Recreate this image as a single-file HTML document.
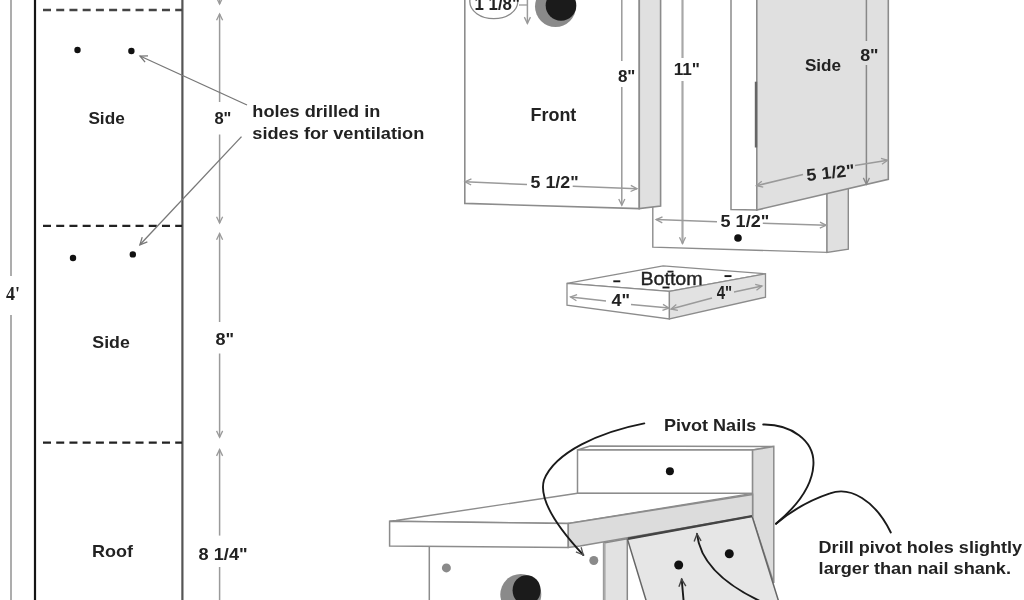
<!DOCTYPE html>
<html><head><meta charset="utf-8"><style>
html,body{margin:0;padding:0;background:#fff;}
svg{display:block;will-change:transform;}
</style></head><body>
<svg width="1024" height="600" viewBox="0 0 1024 600">
<rect width="1024" height="600" fill="#fff"/>
<line x1="11" y1="0" x2="11" y2="276" stroke="#999" stroke-width="1.6" />
<line x1="11" y1="315" x2="11" y2="600" stroke="#999" stroke-width="1.6" />
<text x="6" y="299.6" font-family="Liberation Serif" font-size="18" font-weight="bold" fill="#222" textLength="14" lengthAdjust="spacingAndGlyphs" >4'</text>
<line x1="35" y1="0" x2="35" y2="600" stroke="#151515" stroke-width="2.2" />
<line x1="182.4" y1="0" x2="182.4" y2="600" stroke="#555" stroke-width="2.2" />
<line x1="43" y1="10" x2="182" y2="10" stroke="#444" stroke-width="2.3" stroke-dasharray="8 5.22"/>
<line x1="43" y1="225.8" x2="182" y2="225.8" stroke="#222" stroke-width="2.3" stroke-dasharray="8 5.22"/>
<line x1="43" y1="442.6" x2="182" y2="442.6" stroke="#222" stroke-width="2.3" stroke-dasharray="8 5.22"/>
<circle cx="77.5" cy="50" r="3.2" fill="#111" />
<circle cx="131.4" cy="51" r="3.2" fill="#111" />
<circle cx="73" cy="258" r="3.2" fill="#111" />
<circle cx="132.8" cy="254.4" r="3.2" fill="#111" />
<text x="88.4" y="124.2" font-family="Liberation Sans" font-size="17" font-weight="bold" fill="#222" textLength="36.3" lengthAdjust="spacingAndGlyphs" >Side</text>
<text x="92.3" y="348.1" font-family="Liberation Sans" font-size="17" font-weight="bold" fill="#222" textLength="37.5" lengthAdjust="spacingAndGlyphs" >Side</text>
<text x="91.9" y="557" font-family="Liberation Sans" font-size="17" font-weight="bold" fill="#222" textLength="41" lengthAdjust="spacingAndGlyphs" >Roof</text>
<line x1="219.6" y1="0" x2="219.6" y2="4" stroke="#9a9a9a" stroke-width="1.5" />
<polyline points="216.5552412612214,-2.303129716468738 219.6,4 222.64475873877862,-2.303129716468738" stroke="#9a9a9a" stroke-width="1.3" fill="none" stroke-linejoin="miter" />
<line x1="219.6" y1="14" x2="219.6" y2="102" stroke="#9a9a9a" stroke-width="1.5" />
<polyline points="222.64475873877862,20.30312971646874 219.6,14 216.5552412612214,20.30312971646874" stroke="#9a9a9a" stroke-width="1.3" fill="none" stroke-linejoin="miter" />
<line x1="219.6" y1="134.5" x2="219.6" y2="223" stroke="#9a9a9a" stroke-width="1.5" />
<polyline points="216.5552412612214,216.69687028353127 219.6,223 222.64475873877862,216.69687028353127" stroke="#9a9a9a" stroke-width="1.3" fill="none" stroke-linejoin="miter" />
<line x1="219.6" y1="233.5" x2="219.6" y2="322" stroke="#9a9a9a" stroke-width="1.5" />
<polyline points="222.64475873877862,239.80312971646873 219.6,233.5 216.5552412612214,239.80312971646873" stroke="#9a9a9a" stroke-width="1.3" fill="none" stroke-linejoin="miter" />
<line x1="219.6" y1="353.5" x2="219.6" y2="437.2" stroke="#9a9a9a" stroke-width="1.5" />
<polyline points="216.5552412612214,430.89687028353126 219.6,437.2 222.64475873877862,430.89687028353126" stroke="#9a9a9a" stroke-width="1.3" fill="none" stroke-linejoin="miter" />
<line x1="219.6" y1="449.6" x2="219.6" y2="535.6" stroke="#9a9a9a" stroke-width="1.5" />
<polyline points="222.64475873877862,455.90312971646875 219.6,449.6 216.5552412612214,455.90312971646875" stroke="#9a9a9a" stroke-width="1.3" fill="none" stroke-linejoin="miter" />
<line x1="219.6" y1="567" x2="219.6" y2="600" stroke="#9a9a9a" stroke-width="1.5" />
<text x="214.4" y="124" font-family="Liberation Sans" font-size="17" font-weight="bold" fill="#222" textLength="17" lengthAdjust="spacingAndGlyphs" >8"</text>
<text x="215.4" y="344.6" font-family="Liberation Sans" font-size="17" font-weight="bold" fill="#222" textLength="18.6" lengthAdjust="spacingAndGlyphs" >8"</text>
<text x="198.6" y="559.6" font-family="Liberation Sans" font-size="17" font-weight="bold" fill="#222" textLength="49" lengthAdjust="spacingAndGlyphs" >8 1/4"</text>
<line x1="247" y1="105" x2="140" y2="56" stroke="#777" stroke-width="1.3" />
<polyline points="147.99857705377815,55.84911887204222 140,56 145.09018447629376,62.171711431790854" stroke="#777" stroke-width="1.3" fill="none" stroke-linejoin="miter" />
<line x1="241.5" y1="136.6" x2="139.9" y2="244.8" stroke="#777" stroke-width="1.3" />
<polyline points="142.22475233311965,237.1452285083319 139.9,244.8 147.3412777205006,241.8627587966969" stroke="#777" stroke-width="1.3" fill="none" stroke-linejoin="miter" />
<text x="252.3" y="117.3" font-family="Liberation Sans" font-size="17" font-weight="bold" fill="#222" textLength="128" lengthAdjust="spacingAndGlyphs" >holes drilled in</text>
<text x="252.3" y="138.8" font-family="Liberation Sans" font-size="17" font-weight="bold" fill="#222" textLength="172" lengthAdjust="spacingAndGlyphs" >sides for ventilation</text>
<polygon points="652.8,-5 827,-5 827,252.4 652.8,247.1" stroke="#8c8c8c" stroke-width="1.4" fill="#fff" />
<polygon points="827,190 848.3,186 848.3,249.2 827,252.4" stroke="#8c8c8c" stroke-width="1.4" fill="#e0e0e0" />
<polygon points="464.8,-5 639.3,-5 639.3,208.6 464.8,203.4" stroke="#8c8c8c" stroke-width="1.6" fill="#fff" />
<polygon points="639.3,-5 660.6,-5 660.6,206 639.3,208.6" stroke="#8c8c8c" stroke-width="1.6" fill="#e0e0e0" />
<polygon points="731,-5 756.8,-5 756.8,210 731,209.6" stroke="#8c8c8c" stroke-width="1.5" fill="#fff" />
<polygon points="756.8,-5 888.3,-5 888.3,179.4 756.8,210" stroke="#8c8c8c" stroke-width="1.6" fill="#e0e0e0" />
<line x1="756" y1="81.7" x2="756" y2="147.5" stroke="#666" stroke-width="2.4" />
<ellipse cx="493.8" cy="1.5" rx="24" ry="17.2" fill="#fff" stroke="#888" stroke-width="1.3" />
<text x="474.5" y="10.3" font-family="Liberation Sans" font-size="18" font-weight="bold" fill="#222" textLength="45.5" lengthAdjust="spacingAndGlyphs" >1 1/8"</text>
<line x1="519" y1="5" x2="527.4" y2="5" stroke="#9a9a9a" stroke-width="1.3" />
<line x1="527.4" y1="-2" x2="527.4" y2="23.4" stroke="#9a9a9a" stroke-width="1.5" />
<polyline points="524.3552412612214,17.09687028353126 527.4,23.4 530.4447587387785,17.09687028353126" stroke="#9a9a9a" stroke-width="1.3" fill="none" stroke-linejoin="miter" />
<circle cx="555.5" cy="6.5" r="20.5" fill="#8a8a8a" />
<circle cx="561" cy="5.5" r="15.3" fill="#1b1b1b" />
<text x="530.5" y="121" font-family="Liberation Sans" font-size="18" font-weight="bold" fill="#222" textLength="45.8" lengthAdjust="spacingAndGlyphs" >Front</text>
<line x1="621.8" y1="-2" x2="621.8" y2="61" stroke="#9a9a9a" stroke-width="1.5" />
<line x1="621.8" y1="87" x2="621.8" y2="205.3" stroke="#9a9a9a" stroke-width="1.5" />
<polyline points="618.7552412612214,198.99687028353128 621.8,205.3 624.8447587387785,198.99687028353128" stroke="#9a9a9a" stroke-width="1.3" fill="none" stroke-linejoin="miter" />
<text x="617.9" y="81.7" font-family="Liberation Sans" font-size="17" font-weight="bold" fill="#222" textLength="17.5" lengthAdjust="spacingAndGlyphs" >8"</text>
<line x1="465" y1="181.7" x2="527" y2="184.6" stroke="#9a9a9a" stroke-width="1.5" />
<polyline points="471.43559765409384,178.94626020934763 465,181.7 471.15751013369396,185.0294247180941" stroke="#9a9a9a" stroke-width="1.3" fill="none" stroke-linejoin="miter" />
<line x1="572.7" y1="186.3" x2="637" y2="188.7" stroke="#9a9a9a" stroke-width="1.5" />
<polyline points="630.586252841183,191.50425522782191 637,188.7 630.8165022506952,185.41909226214102" stroke="#9a9a9a" stroke-width="1.3" fill="none" stroke-linejoin="miter" />
<text x="530.6" y="188" font-family="Liberation Sans" font-size="17" font-weight="bold" fill="#222" textLength="48" lengthAdjust="spacingAndGlyphs" >5 1/2"</text>
<line x1="682.5" y1="-2" x2="682.5" y2="58" stroke="#a8a8a8" stroke-width="2.2" />
<line x1="682.5" y1="81" x2="682.5" y2="243.5" stroke="#a8a8a8" stroke-width="2.2" />
<polyline points="679.4552412612214,237.19687028353127 682.5,243.5 685.5447587387786,237.19687028353127" stroke="#9a9a9a" stroke-width="1.3" fill="none" stroke-linejoin="miter" />
<text x="673.7" y="75" font-family="Liberation Sans" font-size="17" font-weight="bold" fill="#222" textLength="26.3" lengthAdjust="spacingAndGlyphs" >11"</text>
<line x1="656.1" y1="219.6" x2="717" y2="221.8" stroke="#9a9a9a" stroke-width="1.5" />
<polyline points="662.506896012021,216.78012704343794 656.1,219.6 662.2914727953516,222.86583291434516" stroke="#9a9a9a" stroke-width="1.3" fill="none" stroke-linejoin="miter" />
<line x1="762.8" y1="223.3" x2="826.2" y2="225.3" stroke="#9a9a9a" stroke-width="1.5" />
<polyline points="819.806880158478,228.1509680271684 826.2,225.3 819.9927330039924,222.06428733657117" stroke="#9a9a9a" stroke-width="1.3" fill="none" stroke-linejoin="miter" />
<text x="720.6" y="227" font-family="Liberation Sans" font-size="17" font-weight="bold" fill="#222" textLength="48.6" lengthAdjust="spacingAndGlyphs" >5 1/2"</text>
<circle cx="738" cy="238" r="3.8" fill="#111" />
<text x="804.9" y="71.1" font-family="Liberation Sans" font-size="17" font-weight="bold" fill="#222" textLength="36.2" lengthAdjust="spacingAndGlyphs" >Side</text>
<line x1="866.4" y1="-2" x2="866.4" y2="41" stroke="#888" stroke-width="1.5" />
<line x1="866.4" y1="65" x2="866.4" y2="184.2" stroke="#888" stroke-width="1.5" />
<polyline points="863.3552412612214,177.89687028353126 866.4,184.2 869.4447587387785,177.89687028353126" stroke="#888" stroke-width="1.3" fill="none" stroke-linejoin="miter" />
<text x="860.2" y="60.7" font-family="Liberation Sans" font-size="17" font-weight="bold" fill="#222" textLength="18.4" lengthAdjust="spacingAndGlyphs" >8"</text>
<line x1="756.4" y1="185.7" x2="803" y2="174.5" stroke="#9a9a9a" stroke-width="1.5" />
<polyline points="761.8015342896995,181.2476492369535 756.4,185.7 763.2452937222278,187.16354154584997" stroke="#9a9a9a" stroke-width="1.3" fill="none" stroke-linejoin="miter" />
<line x1="855" y1="165.6" x2="887.7" y2="160.3" stroke="#9a9a9a" stroke-width="1.5" />
<polyline points="881.9666693351185,164.31608260461974 887.7,160.3 880.9901989318323,158.30536478883593" stroke="#9a9a9a" stroke-width="1.3" fill="none" stroke-linejoin="miter" />
<text x="806.4" y="178.5" font-family="Liberation Sans" font-size="17" font-weight="bold" fill="#222" textLength="48.4" lengthAdjust="spacingAndGlyphs" transform="rotate(-6 830 173)">5 1/2"</text>
<polygon points="567,283.4 663.1,265.9 765.5,273.8 669.4,291.3" stroke="#8c8c8c" stroke-width="1.3" fill="#fff" />
<polygon points="567,283.4 669.4,291.3 669.4,318.9 567,305.1" stroke="#8c8c8c" stroke-width="1.3" fill="#fff" />
<polygon points="669.4,291.3 765.5,273.8 765.5,297.2 669.4,318.9" stroke="#8c8c8c" stroke-width="1.3" fill="#e2e2e2" />
<line x1="613.3" y1="281.3" x2="620.3" y2="281.3" stroke="#1a1a1a" stroke-width="1.9" />
<line x1="662.5" y1="287.5" x2="669.5" y2="287.5" stroke="#1a1a1a" stroke-width="1.9" />
<line x1="724.5" y1="276.1" x2="731.5" y2="276.1" stroke="#1a1a1a" stroke-width="1.9" />
<text x="640.4" y="284.7" font-family="Liberation Sans" font-size="17.5" font-weight="normal" fill="#222" textLength="62.3" lengthAdjust="spacingAndGlyphs" stroke="#222" stroke-width="0.35">Bottom</text>
<line x1="667.5" y1="271.6" x2="673.5" y2="271.6" stroke="#222" stroke-width="1.8" />
<text x="611.5" y="306.4" font-family="Liberation Sans" font-size="17" font-weight="bold" fill="#222" textLength="18.5" lengthAdjust="spacingAndGlyphs" >4"</text>
<text x="716.7" y="299.3" font-family="Liberation Sans" font-size="18" font-weight="bold" fill="#222" textLength="15.5" lengthAdjust="spacingAndGlyphs" >4"</text>
<line x1="570.5" y1="297" x2="606" y2="301" stroke="#9a9a9a" stroke-width="1.3" />
<polyline points="577.1047397619697,294.6810751032736 570.5,297 576.4220483468848,300.7322035551613" stroke="#9a9a9a" stroke-width="1.3" fill="none" stroke-linejoin="miter" />
<line x1="631" y1="304.5" x2="669" y2="308" stroke="#9a9a9a" stroke-width="1.3" />
<polyline points="662.4506079534275,310.470923677553 669,308 662.9932916094749,304.4056357570225" stroke="#9a9a9a" stroke-width="1.3" fill="none" stroke-linejoin="miter" />
<line x1="671" y1="309" x2="712" y2="298" stroke="#9a9a9a" stroke-width="1.3" />
<polyline points="676.3207255569181,304.4513870742876 671,309 677.8704669508028,310.34040437104903" stroke="#9a9a9a" stroke-width="1.3" fill="none" stroke-linejoin="miter" />
<line x1="734" y1="292" x2="762" y2="286" stroke="#9a9a9a" stroke-width="1.3" />
<polyline points="756.4644015498982,290.2845244542692 762,286 755.2028335230871,284.32711988321626" stroke="#9a9a9a" stroke-width="1.3" fill="none" stroke-linejoin="miter" />
<polygon points="577.5,450 590,446 773.8,446.5 752.6,450" stroke="#8c8c8c" stroke-width="1.4" fill="#fff" />
<polygon points="577.5,450 752.6,450 752.6,493.4 577.5,493.4" stroke="#8c8c8c" stroke-width="1.5" fill="#fff" />
<polygon points="752.6,450 773.8,446.5 773.8,583 752.6,518" stroke="#8c8c8c" stroke-width="1.5" fill="#dcdcdc" />
<circle cx="669.9" cy="471.2" r="4" fill="#111" />
<polygon points="429.3,540 603.6,540 603.6,605 429.3,605" stroke="none" stroke-width="1.5" fill="#fff" />
<line x1="429.3" y1="546.5" x2="429.3" y2="605" stroke="#8c8c8c" stroke-width="1.5" />
<polygon points="603.6,543 627.3,538.7 627.3,605 603.6,605" stroke="#888" stroke-width="1.5" fill="#e2e2e2" />
<line x1="604.5" y1="543" x2="604.5" y2="600" stroke="#aaa" stroke-width="2.2" />
<polygon points="627.3,538.7 752,516 779.8,605 647.5,605" stroke="#666" stroke-width="1.5" fill="#e6e6e6" />
<polygon points="396,520.5 577.5,493.3 752.6,493.4 568.3,523.5 389.6,521.3" stroke="#8c8c8c" stroke-width="1.4" fill="#fff" />
<polygon points="389.6,521.3 568.3,523.5 568.3,547.5 389.6,546" stroke="#8c8c8c" stroke-width="1.5" fill="#fff" />
<polygon points="568.3,523.5 752.6,494.5 752.6,516.1 580,546 568.3,547.5" stroke="#8c8c8c" stroke-width="1.5" fill="#dcdcdc" />
<line x1="628" y1="538.7" x2="752" y2="516.1" stroke="#444" stroke-width="2.4" />
<circle cx="678.7" cy="565" r="4.5" fill="#111" />
<circle cx="729.3" cy="553.7" r="4.5" fill="#111" />
<circle cx="446.4" cy="567.9" r="4.5" fill="#8a8a8a" />
<circle cx="593.8" cy="560.5" r="4.5" fill="#8a8a8a" />
<circle cx="520.8" cy="594.5" r="20.5" fill="#8a8a8a" />
<ellipse cx="526.6" cy="590.2" rx="14" ry="15" fill="#1b1b1b" stroke="none" stroke-width="1" />
<path d="M683.7,602 L681.7,579.3" stroke="#1a1a1a" stroke-width="1.9" fill="none" stroke-linecap="round" />
<polyline points="685.8563670329842,586.1355404385552 681.7,579.3 678.9291764121274,586.8048342183481" stroke="#444" stroke-width="1.4" fill="none" stroke-linejoin="miter" />
<path d="M762,602 C721,583 700,561 697,534" stroke="#1a1a1a" stroke-width="1.9" fill="none" stroke-linecap="round" />
<polyline points="701.0822053009871,540.8800872000719 697,534 694.148182063221,541.4744320490232" stroke="#444" stroke-width="1.4" fill="none" stroke-linejoin="miter" />
<path d="M644.3,423.4 C600,432 555,452 544,480 C538,500 560,530 583.3,555" stroke="#1a1a1a" stroke-width="1.9" fill="none" stroke-linecap="round" />
<polyline points="575.9172494045644,551.918605243466 583.3,555 581.1245480685992,547.3014670946884" stroke="#555" stroke-width="1.3" fill="none" stroke-linejoin="miter" />
<path d="M763.2,424.5 C790,424 815,440 813.4,465 C812,490 790,512 776,523.7" stroke="#1a1a1a" stroke-width="1.9" fill="none" stroke-linecap="round" />
<path d="M890.8,532.5 C875,500 850,486 830,493.4 C810,500 790,512 776,523.7" stroke="#1a1a1a" stroke-width="1.9" fill="none" stroke-linecap="round" />
<text x="664" y="430.8" font-family="Liberation Sans" font-size="17" font-weight="bold" fill="#222" textLength="92.2" lengthAdjust="spacingAndGlyphs" >Pivot Nails</text>
<text x="818.6" y="553.3" font-family="Liberation Sans" font-size="17" font-weight="bold" fill="#222" textLength="203.4" lengthAdjust="spacingAndGlyphs" >Drill pivot holes slightly</text>
<text x="818.6" y="574.1" font-family="Liberation Sans" font-size="17" font-weight="bold" fill="#222" textLength="192.4" lengthAdjust="spacingAndGlyphs" >larger than nail shank.</text>
</svg></body></html>
